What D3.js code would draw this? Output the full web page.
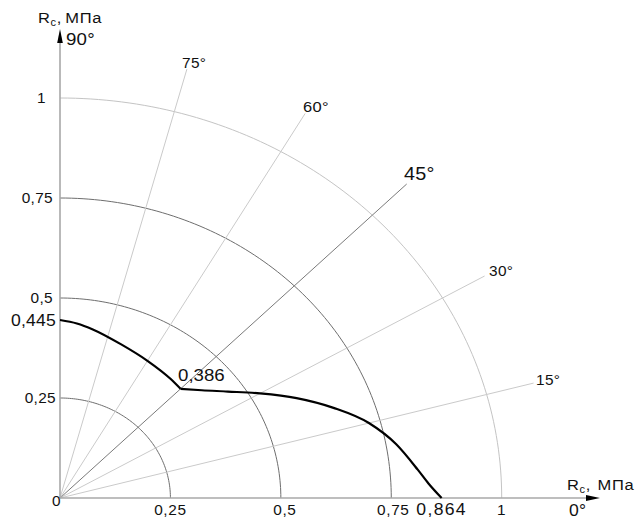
<!DOCTYPE html>
<html>
<head>
<meta charset="utf-8">
<script src="https://cdn.jsdelivr.net/npm/d3@7"></script>
<style>
  body { margin: 0; background: #fff; }
  svg text { font-family: "Liberation Sans", Arial, sans-serif; fill: #111; }
</style>
</head>
<body>
<div id="chart"></div>
<script>
// rings of the polar grid (МПа) and the angle rays (degrees)
var rings = [0.25, 0.5, 0.75, 1];
var rayAngles = [15, 30, 45, 60, 75];
var rayLength = 1.11;

// strength curve, upper part 90..45 deg and lower part 45..0 deg
var upperAngles = [90, 85, 80, 70, 60, 50, 45];
var upperR = [0.445, 0.438, 0.428, 0.408, 0.396, 0.389, 0.386];
var lowerAngles = [45, 40, 35, 30, 25, 20, 15, 10, 5, 2.5, 0];
var lowerR = [0.386, 0.419, 0.464, 0.523, 0.591, 0.659, 0.724, 0.773, 0.813, 0.835, 0.864];

// tick labels
var xTickValues = [0.25, 0.5, 0.75, 1];
var xTickLabels = ["0,25", "0,5", "0,75", "1"];
var yTickValues = [0.25, 0.5, 0.75, 1];
var yTickLabels = ["0,25", "0,5", "0,75", "1"];

var width = 635, height = 521;

// the drawing is stretched sideways, so x and y get their own scale
var xScale = d3.scaleLinear().domain([0, 1]).range([60, 501.7]);
var yScale = d3.scaleLinear().domain([0, 1]).range([498, 98]);

function px(a, r) { return xScale(r * Math.cos(a * Math.PI / 180)); }
function py(a, r) { return yScale(r * Math.sin(a * Math.PI / 180)); }

var svg = d3.select("#chart").append("svg")
    .attr("width", width)
    .attr("height", height);

var polarLine = d3.line()
    .x(function(d) { return px(d[0], d[1]); })
    .y(function(d) { return py(d[0], d[1]); });

// rings
svg.selectAll(".ring")
    .data(rings)
    .enter().append("path")
    .attr("class", "ring")
    .attr("fill", "none")
    .attr("stroke", function(d) { return d === 1 ? "#c4c4c4" : "#6e6e6e"; })
    .attr("stroke-width", 1)
    .attr("d", function(r) {
      return polarLine(d3.range(0, 90.5, 1).map(function(a) { return [a, r]; }));
    });

// rays
svg.selectAll(".ray")
    .data(rayAngles)
    .enter().append("line")
    .attr("class", "ray")
    .attr("x1", xScale(0)).attr("y1", yScale(0))
    .attr("x2", function(a) { return px(a, rayLength); })
    .attr("y2", function(a) { return py(a, rayLength); })
    .attr("stroke", function(a) { return a === 45 ? "#7a7a7a" : "#cacaca"; })
    .attr("stroke-width", 1);

// axes
svg.append("line")
    .attr("x1", xScale(0)).attr("y1", yScale(0))
    .attr("x2", 590).attr("y2", yScale(0))
    .attr("stroke", "#a8a8a8").attr("stroke-width", 1.6);
svg.append("line")
    .attr("x1", xScale(0)).attr("y1", yScale(0))
    .attr("x2", xScale(0)).attr("y2", 41)
    .attr("stroke", "#a8a8a8").attr("stroke-width", 1.6);

// arrow heads
svg.append("path")
    .attr("d", "M600," + yScale(0) + " L586," + (yScale(0) - 3) + " L586," + (yScale(0) + 3) + " Z")
    .attr("fill", "#000");
svg.append("path")
    .attr("d", "M" + xScale(0) + ",29 L" + (xScale(0) - 2.8) + ",43 L" + (xScale(0) + 2.8) + ",43 Z")
    .attr("fill", "#000");

// curve
var curveLine = d3.line()
    .x(function(d) { return px(d[0], d[1]); })
    .y(function(d) { return py(d[0], d[1]); })
    .curve(d3.curveMonotoneX);

svg.append("path")
    .attr("fill", "none").attr("stroke", "#000").attr("stroke-width", 2.2)
    .attr("d", curveLine(d3.zip(upperAngles, upperR)));
svg.append("path")
    .attr("fill", "none").attr("stroke", "#000").attr("stroke-width", 2.2)
    .attr("d", curveLine(d3.zip(lowerAngles, lowerR)));

// text helper: glyphs are widened like the rest of the drawing
function label(x, y, txt, size, anchor, spacing) {
  var t = svg.append("text")
      .attr("transform", "translate(" + x + "," + y + ") scale(1.1,1)")
      .attr("font-size", size)
      .attr("text-anchor", anchor || "start")
      .attr("letter-spacing", spacing == null ? 0.4 : spacing);
  t.text(txt);
  return t;
}

function unitLabel(x, y, gap) {
  var t = svg.append("text")
      .attr("transform", "translate(" + x + "," + y + ") scale(1.1,1)")
      .attr("font-size", 15)
      .attr("letter-spacing", 0.6);
  t.append("tspan").text("R");
  t.append("tspan").attr("font-size", 10).attr("dy", 3).text("c");
  t.append("tspan").attr("dy", -3).text(",");
  t.append("tspan").attr("dx", gap).text("МПа");
}

// tick labels
xTickValues.forEach(function(v, i) {
  label(xScale(v) + (i === 1 ? 4 : i === 2 ? 2 : 0), 515, xTickLabels[i], 14, "middle", 0.6);
});
yTickValues.forEach(function(v, i) {
  label(i === 3 ? 46 : i === 0 ? 56 : 53, yScale(v) + 5, yTickLabels[i], 14, "end", 0.3);
});
label(52, 506, "0", 14, "start", 0);

// special values
label(56, yScale(0.445) + 6, "0,445", 16, "end", 0.2);
label(xScale(0.864), 515, "0,864", 16, "middle", 1.2);
label(178, 381, "0,386", 17, "start", 0);

// angle labels
label(182, 68, "75°", 14, "start", 0.3);
label(303, 112, "60°", 15, "start", 0.3);
label(404, 180, "45°", 18, "start", 0.2);
label(489, 276, "30°", 14, "start", 0.3);
label(536, 385, "15°", 14, "start", 0.3);
label(66, 45, "90°", 17, "start", 0.2);
label(569, 516, "0°", 16, "start", 0.3);

// axis titles
unitLabel(38, 23, 3);
unitLabel(567, 490, 6);
</script>
</body>
</html>
